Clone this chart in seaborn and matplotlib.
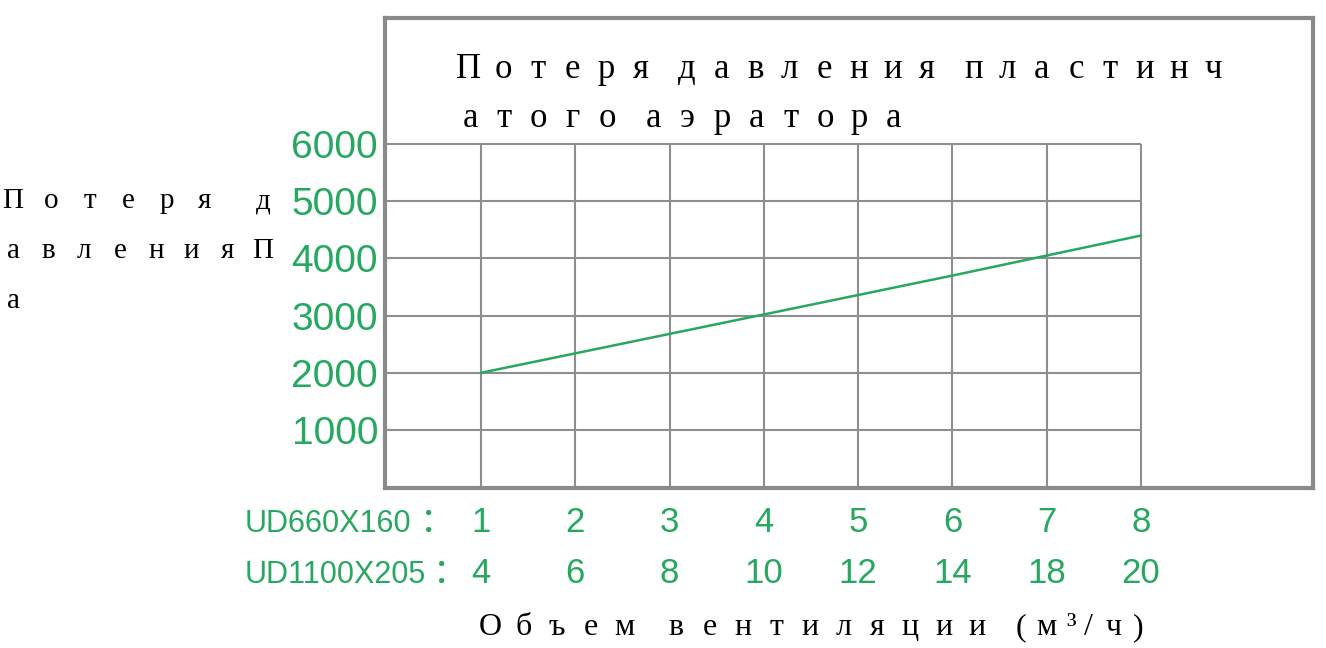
import seaborn as sns
import matplotlib.pyplot as plt
from matplotlib.transforms import blended_transform_factory


# data
volume_ud660 = [1, 2, 3, 4, 5, 6, 7, 8]
volume_ud1100 = [4, 6, 8, 10, 12, 14, 18, 20]
pressure_loss = [2000, 2340, 2680, 3020, 3360, 3700, 4050, 4400]
y_ticks = [1000, 2000, 3000, 4000, 5000, 6000]

title_lines = ['Потеря давления пластинч', 'атого аэратора']
ylabel_lines = ['Потеря д', 'авленияП', 'а']
xlabel = 'Объем вентиляции (м³/ч)'
row_names = ['UD660X160', 'UD1100X205']

W, H = 1326, 648
GREEN = '#27a860'
GRID = '#8e8e8e'
SERIF = ['Liberation Serif', 'DejaVu Serif']

sns.set_theme(style='white')
plt.rcParams['font.family'] = ['Liberation Sans', 'Noto Sans CJK SC', 'DejaVu Sans']

fig = plt.figure(figsize=(W / 100, H / 100), dpi=100)
ax = fig.add_axes([385 / W, 1 - 488 / H, (1313 - 385) / W, (488 - 18) / H])

# grid only covers the data part of the box
ax.hlines(y_ticks, 0, volume_ud660[-1], color=GRID, lw=1.5, zorder=1)
ax.vlines(volume_ud660, 0, y_ticks[-1], color=GRID, lw=1.5, zorder=1)

sns.lineplot(x=volume_ud660, y=pressure_loss, ax=ax, color=GREEN, lw=1.8, zorder=3)

ax.set_xlim(-0.018, 9.824)
ax.set_ylim(-14, 8203)
ax.set_xticks([])
ax.set_yticks(y_ticks, labels=[str(v) for v in y_ticks])
ax.tick_params(axis='y', length=0, pad=5, labelsize=28, labelcolor=GREEN)
for s in ax.spines.values():
    s.set_color('#8a8a8a')
    s.set_linewidth(3)

# two rows of x tick labels, each with its model name in front
tr = blended_transform_factory(ax.transData, fig.transFigure)
rows = [(volume_ud660, 532, 437), (volume_ud1100, 583, 450)]
for name, (vals, base, colon_x) in zip(row_names, rows):
    for x, v in zip(volume_ud660, vals):
        ax.text(x, 1 - base / H, str(v), transform=tr, ha='center', va='baseline',
                fontsize=25, color=GREEN)
    fig.text(245 / W, 1 - base / H, name, ha='left', va='baseline',
             fontsize=22, color=GREEN)
    fig.text(colon_x / W, 1 - base / H, '：', ha='center', va='baseline',
             fontsize=25, color=GREEN, family=['Noto Sans CJK SC'])


def spell(text, x0, base, full, space, size):
    # letters sit in wide cells, like the original CJK typesetting
    x = x0
    prev = None
    for ch in text:
        if ch == ' ':
            w = space
        elif 0x400 <= ord(ch) <= 0x4FF:
            w = full
        else:
            w = full / 2
        if prev is not None:
            x += (prev + w) / 2
        if ch != ' ':
            fig.text(x / W, 1 - base / H, ch, ha='center', va='baseline',
                     fontsize=size, family=SERIF, color='black')
        prev = w


spell(title_lines[0], 469, 78, 34.3, 12, 25)
spell(title_lines[1], 470, 127, 34.3, 12, 25)
spell(ylabel_lines[0], 13, 208, 38.4, 19.6, 21)
spell(ylabel_lines[1], 13, 258, 35.7, 19.6, 21)
spell(ylabel_lines[2], 13, 308, 35.7, 19.6, 21)
spell(xlabel, 490, 635, 33.5, 18.5, 23)

fig.savefig('out.png', dpi=100, facecolor='white')
